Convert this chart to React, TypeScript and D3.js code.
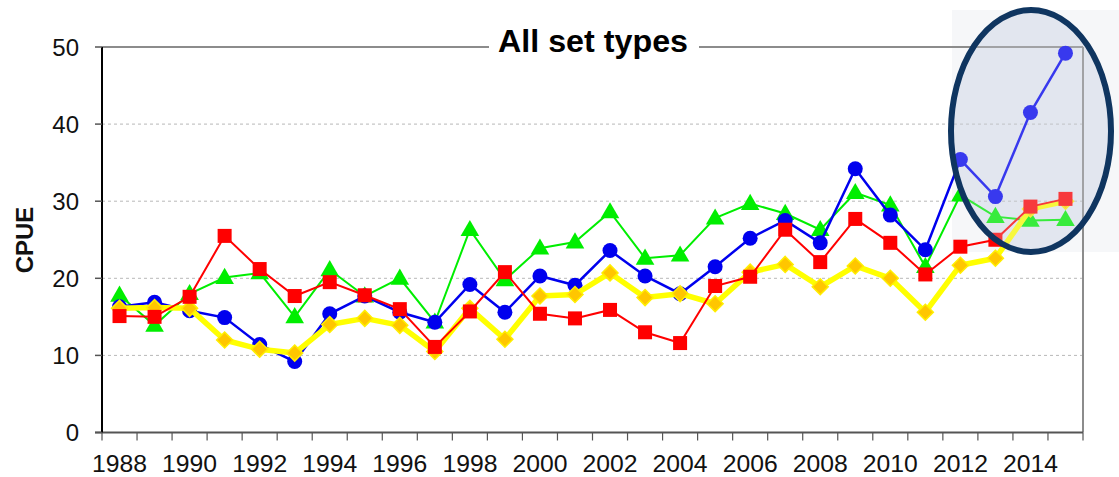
import React from "react";
import * as d3 from "d3";

const years: number[] = [1988,1989,1990,1991,1992,1993,1994,1995,1996,1997,1998,1999,2000,2001,2002,2003,2004,2005,2006,2007,2008,2009,2010,2011,2012,2013,2014,2015];
const blueSeries: number[] = [16.3,16.9,15.8,14.9,11.4,9.2,15.4,17.7,15.6,14.3,19.2,15.6,20.3,19.1,23.6,20.3,18.0,21.5,25.2,27.5,24.6,34.2,28.2,23.7,35.4,30.6,41.5,49.2];
const greenSeries: number[] = [17.8,13.9,18.0,20.1,20.7,15.0,21.1,17.7,20.0,14.3,26.3,19.8,23.9,24.7,28.6,22.6,23.0,27.8,29.7,28.4,26.3,31.1,29.5,21.5,30.8,28.0,27.5,27.6];
const redSeries: number[] = [15.1,15.0,17.6,25.5,21.2,17.7,19.5,17.8,16.0,11.1,15.7,20.8,15.4,14.8,15.9,13.0,11.6,19.0,20.2,26.3,22.1,27.7,24.6,20.5,24.1,25.0,29.3,30.3];
const yellowSeries: number[] = [16.1,16.2,16.1,12.0,10.8,10.3,14.0,14.8,13.9,10.5,16.1,12.1,17.7,17.9,20.7,17.5,18.0,16.7,20.8,21.8,18.9,21.6,20.0,15.6,21.7,22.6,29.0,30.0];
const yTicks: number[] = [0,10,20,30,40,50];
const xTickLabels: number[] = [1988,1990,1992,1994,1996,1998,2000,2002,2004,2006,2008,2010,2012,2014];
const title = "All set types";
const yTitle = "CPUE";

export default function App() {
  const W = 1119, H = 477;
  const left = 102, right = 1083, top = 47, bottom = 432.5;
  const x = d3.scaleBand<number>().domain(years).range([left, right]).paddingInner(0).paddingOuter(0);
  const y = d3.scaleLinear().domain([0, 50]).range([bottom, top]);
  const cx = (yr: number) => (x(yr) as number) + x.bandwidth() / 2;
  const line = d3.line<number>().x((_, i) => cx(years[i])).y((v) => y(v));
  const font = "Liberation Sans, Arial, sans-serif";
  const boundaries = years.map((yr) => x(yr) as number).concat([right]);

  const tri = d3.symbol().type(d3.symbolTriangle).size(150)() as string;

  return (
    <svg width={W} height={H} style={{ position: "absolute", left: 0, top: 0, background: "#fff" }} fontFamily={font}>
      {/* pasted highlight background */}
      <rect x={952} y={10} width={167} height={242} fill="#f6f7f9" />
      <ellipse cx={1031} cy={131} rx={80} ry={121} fill="#e3e7ef" />
      {/* gridlines */}
      {yTicks.filter((t) => t > 0 && t < 50).map((t) => (
        <line key={t} x1={left} x2={right} y1={y(t)} y2={y(t)} stroke="#b8b8b8" strokeWidth={1} strokeDasharray="3,3" />
      ))}
      {/* frame */}
      <line x1={left} x2={right} y1={top} y2={top} stroke="#8c8c8c" strokeWidth={2} />
      <line x1={right} x2={right} y1={top} y2={bottom} stroke="#8c8c8c" strokeWidth={2} />
      <line x1={left - 7} x2={right} y1={bottom} y2={bottom} stroke="#555" strokeWidth={2} />
      <line x1={left} x2={left} y1={top} y2={bottom} stroke="#000" strokeWidth={2} />
      {/* y ticks */}
      {yTicks.map((t) => (
        <g key={t}>
          <line x1={left - 7} x2={left} y1={y(t)} y2={y(t)} stroke="#555" strokeWidth={1.5} />
          <text x={79} y={y(t) + 8.5} textAnchor="end" fontSize={24} fill="#111">{t}</text>
        </g>
      ))}
      {/* x ticks */}
      {boundaries.map((b, i) => (
        <line key={i} x1={b} x2={b} y1={bottom} y2={bottom + 8} stroke="#555" strokeWidth={1.2} />
      ))}
      {xTickLabels.map((yr) => (
        <text key={yr} x={cx(yr)} y={471.5} textAnchor="middle" fontSize={24} textLength={55} lengthAdjust="spacingAndGlyphs" fill="#111">{yr}</text>
      ))}
      {/* axis title */}
      <text transform={`translate(33,240) rotate(-90)`} textAnchor="middle" fontSize={24} fontWeight="bold" fill="#111">{yTitle}</text>
      {/* chart title */}
      <rect x={489} y={26} width={210} height={32} fill="#fff" />
      <text x={593} y={52} textAnchor="middle" fontSize={31} textLength={190} lengthAdjust="spacingAndGlyphs" fontWeight="bold" fill="#000">{title}</text>

      {/* green series */}
      <path d={line(greenSeries) as string} fill="none" stroke="#00ee00" strokeWidth={2} />
      {greenSeries.map((v, i) => (
        <path key={i} d={tri} transform={`translate(${cx(years[i])},${y(v) + 1})`} fill="#00ee00" />
      ))}
      {/* blue series */}
      <path d={line(blueSeries) as string} fill="none" stroke="#0000ee" strokeWidth={2.5} />
      {blueSeries.map((v, i) => (
        <circle key={i} cx={cx(years[i])} cy={y(v)} r={7.5} fill="#0000ee" />
      ))}
      {/* yellow series */}
      <path d={line(yellowSeries) as string} fill="none" stroke="#ffff00" strokeWidth={5.5} strokeLinejoin="round" />
      {yellowSeries.map((v, i) => (
        <path key={i} d={`M0,-8L8,0L0,8L-8,0Z`} transform={`translate(${cx(years[i])},${y(v)})`} fill="#ffc600" stroke="#ffee00" strokeWidth={1.5} />
      ))}
      {/* red series */}
      <path d={line(redSeries) as string} fill="none" stroke="#ff0000" strokeWidth={2} />
      {redSeries.map((v, i) => (
        <rect key={i} x={cx(years[i]) - 7} y={y(v) - 7} width={14} height={14} fill="#ff0000" />
      ))}

      {/* highlight overlay */}
      <ellipse cx={1031} cy={131} rx={80} ry={121} fill="#dfe3ee" fillOpacity={0.25} stroke="#0f3560" strokeWidth={6} />
    </svg>
  );
}
